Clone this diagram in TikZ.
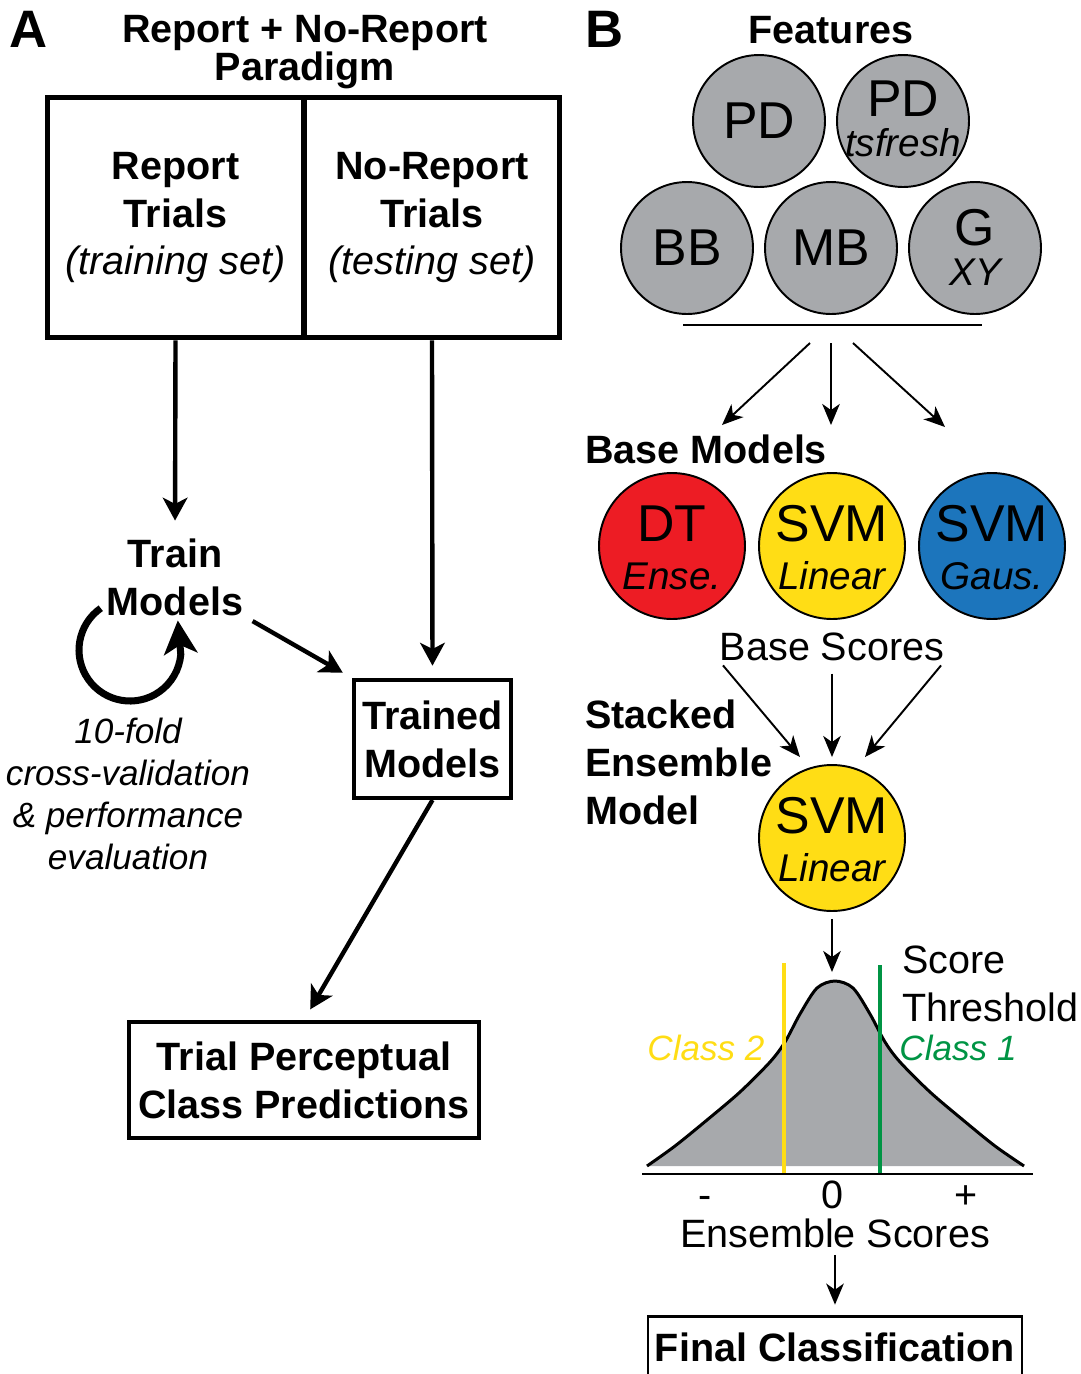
\documentclass[tikz,border=0pt]{standalone}
\usepackage{fontspec}
\setmainfont{Liberation Sans}
\usetikzlibrary{arrows.meta}

\definecolor{featgray}{HTML}{A7A9AC}
\definecolor{modred}{HTML}{ED1C24}
\definecolor{modyellow}{HTML}{FFDD15}
\definecolor{modblue}{HTML}{1C75BC}
\definecolor{thrgreen}{HTML}{009444}

\tikzset{
  panel/.style={font=\fontsize{30}{36}\selectfont\bfseries, inner sep=0pt},
  hdr/.style={font=\fontsize{22.5}{27.3}\selectfont\bfseries, align=center, inner sep=0pt},
  lbl/.style={font=\fontsize{22.5}{27.3}\selectfont, align=center, inner sep=0pt},
  note/.style={font=\fontsize{20}{23.9}\selectfont\itshape, align=center, inner sep=0pt},
  trialbox/.style={draw, line width=2.85pt, minimum width=5.14cm, minimum height=4.82cm, inner sep=0pt, align=center, font=\fontsize{22.5}{27.3}\selectfont},
  modbox/.style={draw, line width=2.3pt, hdr},
  featc/.style={circle, draw, line width=1.1pt, fill=featgray, minimum size=2.64cm, inner sep=0pt},
  basec/.style={circle, draw, line width=1.1pt, minimum size=2.92cm, inner sep=0pt},
  bigtxt/.style={font=\fontsize{29.5}{34}\selectfont, inner sep=0pt},
  subtxt/.style={font=\fontsize{22}{26}\selectfont\itshape, inner sep=0pt},
  fatarrow/.style={line width=2.5pt, -{Stealth[length=13pt, width=14pt, inset=3.5pt]}},
  thinarrow/.style={line width=1.1pt, -{Stealth[length=12pt, width=10pt, inset=3.5pt]}},
}

\begin{document}
\begin{tikzpicture}[x=0.02cm, y=-0.02cm]
    \useasboundingbox (0,0) rectangle (1081,1374);

    % A: report / no-report paradigm
    \node[panel, anchor=base west] (labA) at (9,47) {A};
    \node[hdr, font=\fontsize{22.5}{21.6}\selectfont\bfseries] (title) at (305,52) {Report + No-Report\\Paradigm};
    \node[trialbox] (rep) at (175.5,217.5) {\textbf{Report}\\\textbf{Trials}\\\textit{(training set)}};
    \node[trialbox, minimum width=5.12cm] (norep) at (432,217.5) {\textbf{No-Report}\\\textbf{Trials}\\\textit{(testing set)}};

    \node[hdr] (train) at (175,577) {Train\\Models};
    \node[modbox, minimum width=3.14cm, minimum height=2.36cm] (trained) at (432.5,739) {Trained\\Models};
    \node[modbox, minimum width=7cm, minimum height=2.32cm] (trial) at (304,1080) {Trial Perceptual\\Class Predictions};
    \node[note] (cv) at (128,794) {10-fold\\cross-validation\\\& performance\\evaluation};

    \draw[fatarrow, shorten >=10pt] (rep.south) -- (train.north);
    \draw[fatarrow, shorten >=7pt] (norep.south) -- (trained.north);
    \draw[fatarrow, shorten <=6pt, shorten >=6pt] (train.south east) -- (trained.north west);
    \draw[fatarrow, shorten >=7pt] (trained.south) -- (trial.north);
    % cross-validation loop
    \draw[line width=4pt, -{Stealth[length=19pt, width=19pt, inset=5pt]}] (130,650) ++(-125:51)
        arc[start angle=-125, end angle=-355, radius=51] -- ++(-3,-34);

    % B: features
    \node[panel, anchor=base west] (labB) at (585,47) {B};
    \node[hdr] (feat) at (831,30) {Features};
    \foreach \nm/\cx/\cy in {pd/759/121, pdt/903/121, bb/687/248, mb/831/248, gxy/975/248}
        \node[featc] (\nm) at (\cx,\cy) {};
    \node[bigtxt] (pd-a) at (pd) {PD};
    \node[bigtxt] (pdt-a) at (903,99) {PD};
    \node[subtxt] (pdt-b) at (903,143) {tsfresh};
    \node[bigtxt] (bb-a) at (bb) {BB};
    \node[bigtxt] (mb-a) at (mb) {MB};
    \node[bigtxt] (gxy-a) at (975,228) {G};
    \node[subtxt] (gxy-b) at (975,272) {XY};

    \coordinate (barL) at (683,325);
    \coordinate (barR) at (982,325);
    \draw[line width=1.1pt] (barL) -- (barR);
    \foreach \i/\sx/\ex/\ey in {1/810/722/425, 2/831/831/425, 3/853/945/427} {
        \coordinate (fs\i) at (\sx,343);
        \coordinate (fe\i) at (\ex,\ey);
        \draw[thinarrow] (fs\i) -- (fe\i);
    }

    % base models
    \node[hdr, anchor=west] (basem) at (585,449) {Base Models};
    \foreach \nm/\cx/\col/\ttl/\sbl in {dt/672/modred/DT/Ense., svml/832/modyellow/SVM/Linear, svmg/992/modblue/SVM/Gaus.} {
        \node[basec, fill=\col] (\nm) at (\cx,546) {};
        \node[bigtxt] (\nm-a) at (\cx,524) {\ttl};
        \node[subtxt] (\nm-b) at (\cx,576) {\sbl};
    }
    \node[lbl] (bsc) at (832,647) {Base Scores};
    \coordinate (se1) at (800,757);
    \coordinate (se2) at (832,757);
    \coordinate (se3) at (865,757);
    \draw[thinarrow, shorten <=3pt] (bsc.south west) -- (se1);
    \draw[thinarrow, shorten <=7pt] (bsc.south) -- (se2);
    \draw[thinarrow, shorten <=3pt] (bsc.south east) -- (se3);

    % stacked ensemble
    \node[hdr, align=left, anchor=west] (stkl) at (585,762) {Stacked\\Ensemble\\Model};
    \node[basec, fill=modyellow] (stk) at (832,838) {};
    \node[bigtxt] (stk-a) at (832,816) {SVM};
    \node[subtxt] (stk-b) at (832,868) {Linear};

    % score distribution
    \coordinate (peak) at (832,972);
    \draw[thinarrow, shorten <=4pt] (stk.south) -- (peak);
    \fill[featgray] plot[smooth] coordinates {(647,1166) (675,1146) (707,1120) (740,1092) (770,1062) (785,1042) (800,1014) (817,988) (835,981) (853,988) (870,1014) (885,1042) (900,1062) (930,1092) (963,1120) (995,1146) (1024,1166)} -- cycle;
    \draw[line width=1.7pt] plot[smooth] coordinates {(647,1166) (675,1146) (707,1120) (740,1092) (770,1062) (785,1042) (800,1014) (817,988) (835,981) (853,988) (870,1014) (885,1042) (900,1062) (930,1092) (963,1120) (995,1146) (1024,1166)};
    \draw[modyellow, line width=2.2pt] (784,963) -- (784,1173);
    \draw[thrgreen, line width=2.2pt] (880,965) -- (880,1173);
    \draw[line width=1.4pt] (642,1174) -- (1033,1174);

    \node[note, text=modyellow] (cl2) at (706,1048) {Class 2};
    \node[note, text=thrgreen] (cl1) at (958,1048) {Class 1};
    \node[lbl, align=left, anchor=west] (thr) at (902,984) {Score\\Threshold};
    \node[lbl, anchor=base] (neg) at (705,1208) {-};
    \node[lbl, anchor=base] (zero) at (832,1208) {0};
    \node[lbl, anchor=base] (pos) at (966,1208) {+};
    \node[lbl] (escores) at (835,1233) {Ensemble Scores};

    \node[modbox, line width=1.5pt, minimum width=7.48cm, minimum height=1.22cm] (final) at (835,1347) {Final Classification};
    \draw[thinarrow, shorten <=4pt, shorten >=6pt] (escores.south) -- (final.north);
\end{tikzpicture}
\end{document}
